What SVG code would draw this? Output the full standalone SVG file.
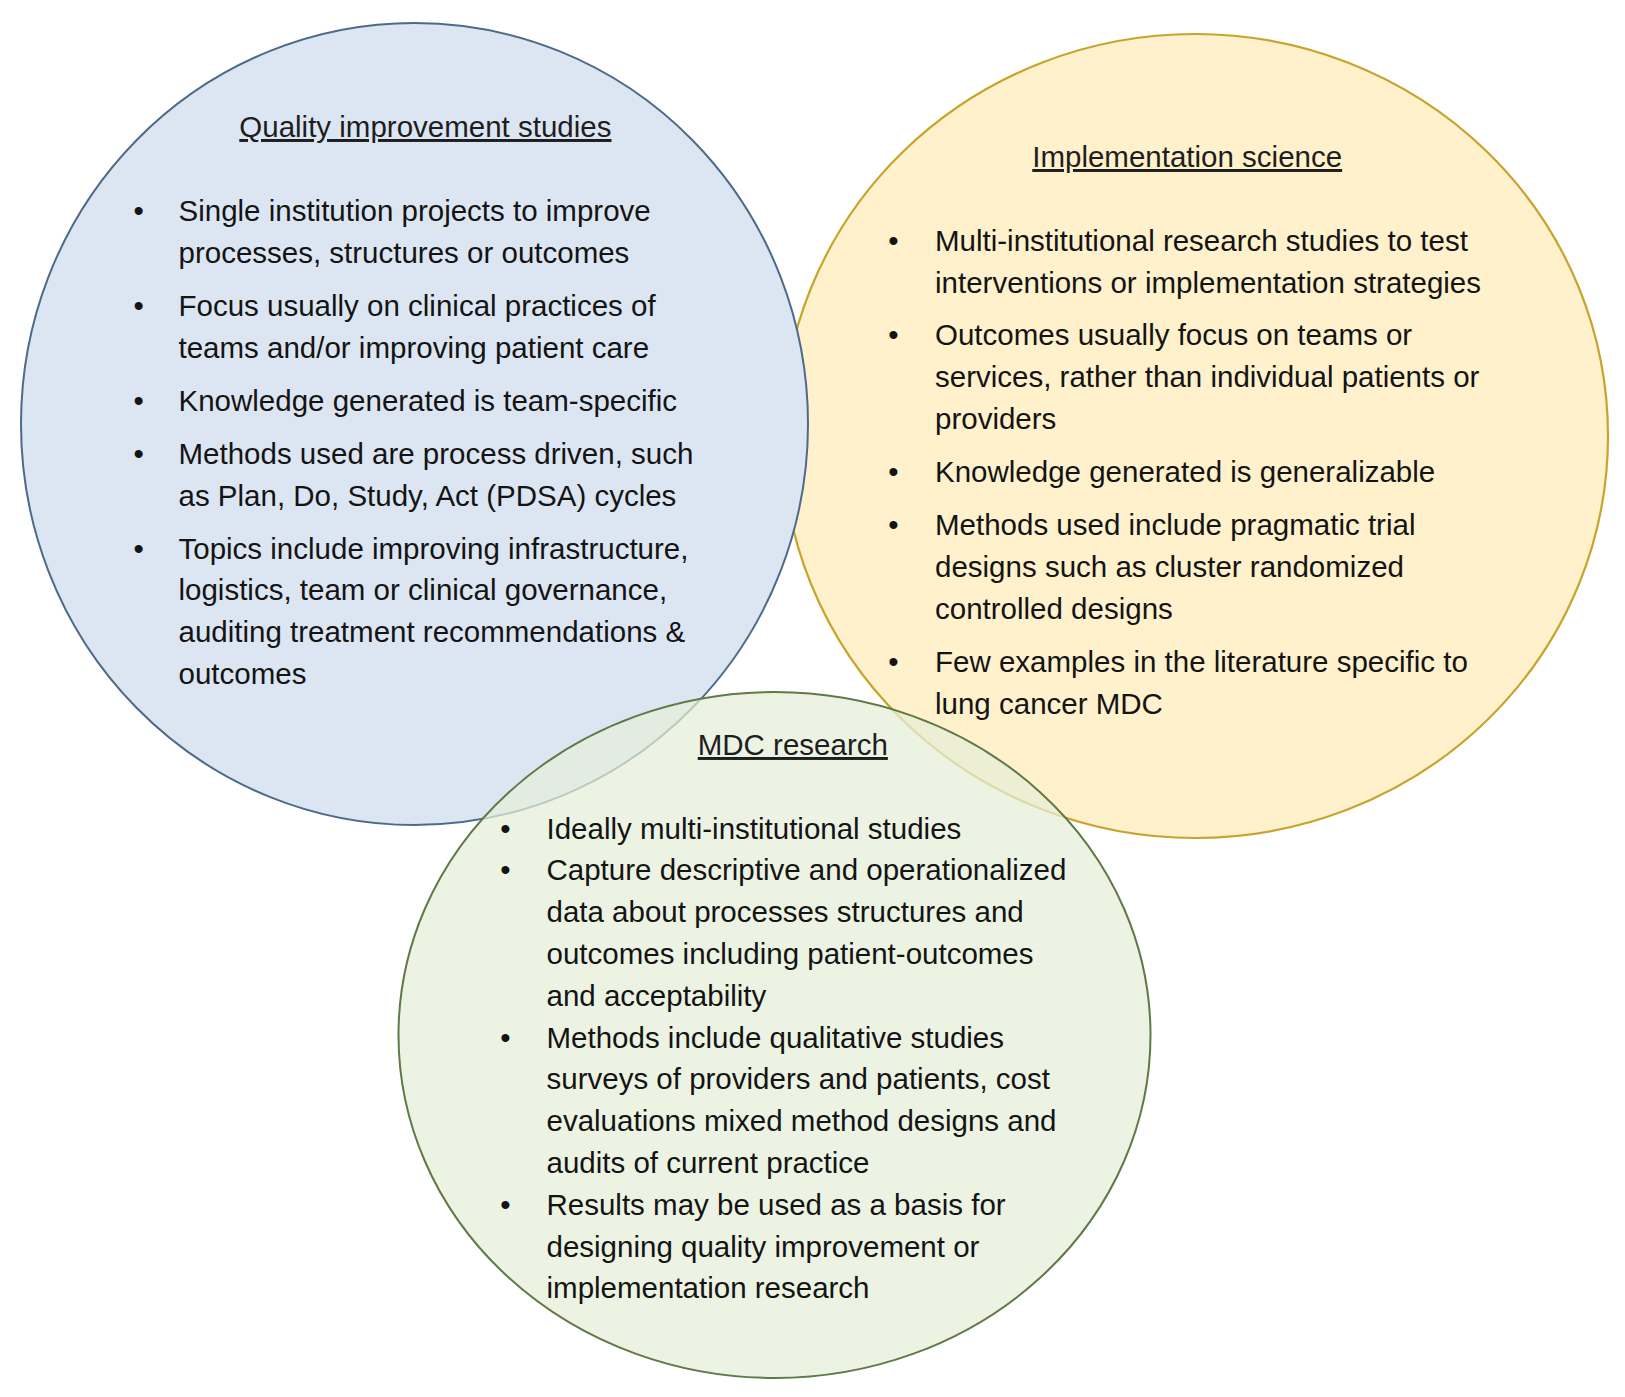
<svg xmlns="http://www.w3.org/2000/svg" width="1625" height="1397" viewBox="0 0 1625 1397">
<style>
  text { font-family: "Liberation Sans", Arial, Helvetica, sans-serif; font-size: 29.5px; fill: #141414; }
  .title { text-anchor: middle; text-decoration: underline; fill: #1e1e1e; }
  .blue { fill: #dce6f2; stroke: #4d6a8a; stroke-width: 2; }
  .yellow { fill: #fef1cb; stroke: #c9a42c; stroke-width: 2.2; }
  .green { fill: #e6eed8; fill-opacity: 0.72; stroke: #5f7a46; stroke-width: 2; }
</style>
<rect width="1625" height="1397" fill="#ffffff"/>

<g id="implementation-science">
  <ellipse class="yellow" cx="1195" cy="436" rx="413" ry="402"/>
  <text class="title" x="1187.2" y="167">Implementation science</text>
  <text x="888.2" y="251">•</text>
  <text x="935" y="251">Multi-institutional research studies to test</text>
  <text x="935" y="292.5">interventions or implementation strategies</text>
  <text x="888.2" y="345">•</text>
  <text x="935" y="345">Outcomes usually focus on teams or</text>
  <text x="935" y="386.8">services, rather than individual patients or</text>
  <text x="935" y="428.5">providers</text>
  <text x="888.2" y="482">•</text>
  <text x="935" y="482">Knowledge generated is generalizable</text>
  <text x="888.2" y="535">•</text>
  <text x="935" y="535">Methods used include pragmatic trial</text>
  <text x="935" y="576.8">designs such as cluster randomized</text>
  <text x="935" y="618.5">controlled designs</text>
  <text x="888.2" y="671.5">•</text>
  <text x="935" y="671.5">Few examples in the literature specific to</text>
  <text x="935" y="713.5">lung cancer MDC</text>
</g>

<g id="quality-improvement">
  <ellipse class="blue" cx="414.5" cy="424" rx="393.5" ry="401"/>
  <text class="title" x="425.4" y="137">Quality improvement studies</text>
  <text x="133.4" y="221">•</text>
  <text x="178.5" y="221">Single institution projects to improve</text>
  <text x="178.5" y="262.5">processes, structures or outcomes</text>
  <text x="133.4" y="316">•</text>
  <text x="178.5" y="316">Focus usually on clinical practices of</text>
  <text x="178.5" y="357.5">teams and/or improving patient care</text>
  <text x="133.4" y="410.5">•</text>
  <text x="178.5" y="410.5">Knowledge generated is team-specific</text>
  <text x="133.4" y="464">•</text>
  <text x="178.5" y="464">Methods used are process driven, such</text>
  <text x="178.5" y="506">as Plan, Do, Study, Act (PDSA) cycles</text>
  <text x="133.4" y="558.5">•</text>
  <text x="178.5" y="558.5">Topics include improving infrastructure,</text>
  <text x="178.5" y="600.3">logistics, team or clinical governance,</text>
  <text x="178.5" y="642">auditing treatment recommendations &amp;</text>
  <text x="178.5" y="684">outcomes</text>
</g>

<g id="mdc-research">
  <ellipse class="green" cx="774.5" cy="1035" rx="376" ry="343"/>
  <text class="title" x="792.8" y="755">MDC research</text>
  <text x="500.3" y="838.5">•</text>
  <text x="546.5" y="838.5">Ideally multi-institutional studies</text>
  <text x="500.3" y="880.3">•</text>
  <text x="546.5" y="880.3">Capture descriptive and operationalized</text>
  <text x="546.5" y="922.1">data about processes structures and</text>
  <text x="546.5" y="963.9">outcomes including patient-outcomes</text>
  <text x="546.5" y="1005.7">and acceptability</text>
  <text x="500.3" y="1047.5">•</text>
  <text x="546.5" y="1047.5">Methods include qualitative studies</text>
  <text x="546.5" y="1089.3">surveys of providers and patients, cost</text>
  <text x="546.5" y="1131.1">evaluations mixed method designs and</text>
  <text x="546.5" y="1172.9">audits of current practice</text>
  <text x="500.3" y="1214.7">•</text>
  <text x="546.5" y="1214.7">Results may be used as a basis for</text>
  <text x="546.5" y="1256.5">designing quality improvement or</text>
  <text x="546.5" y="1298.3">implementation research</text>
</g>

<g id="connectors"></g>
</svg>
